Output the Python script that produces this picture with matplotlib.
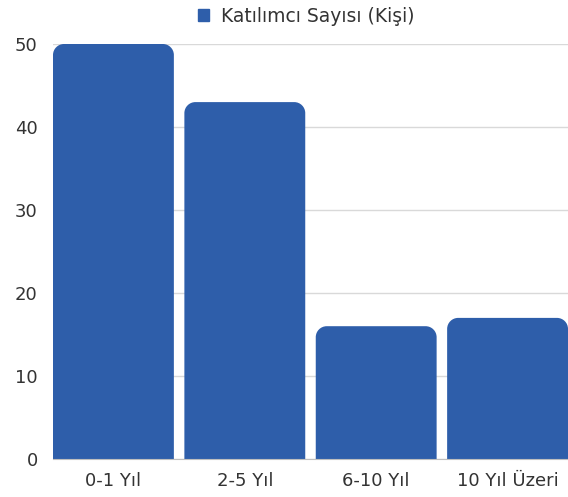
import matplotlib
matplotlib.use("Agg")
import matplotlib.pyplot as plt
from matplotlib.path import Path
from matplotlib.patches import PathPatch, Patch

categories = ["0-1 Yıl", "2-5 Yıl", "6-10 Yıl", "10 Yıl Üzeri"]
values = [50, 43, 16, 17]
series_name = "Katılımcı Sayısı (Kişi)"

BLUE = "#2e5eaa"
TEXT = "#333333"

plt.rcParams["font.family"] = ["DejaVu Sans"]

fig = plt.figure(figsize=(5.68, 4.97), dpi=100)
ax = fig.add_axes([53 / 568, 1 - 459 / 497, 515 / 568, 415 / 497])

x = range(len(categories))
bars = ax.bar(x, values, width=0.92, color=BLUE)
ax.set_xlim(-0.46, len(categories) - 0.54)
ax.set_ylim(0, 50)
ax.set_yticks([0, 10, 20, 30, 40, 50])
ax.set_xticks(list(x))
ax.set_xticklabels(categories)

ax.grid(axis="y", color="#d9d9d9", linewidth=1)
ax.set_axisbelow(True)
for s in ["top", "right", "left"]:
    ax.spines[s].set_visible(False)
ax.spines["bottom"].set_color("#bfbfbf")
ax.tick_params(axis="both", length=0, labelsize=13, colors=TEXT)
ax.tick_params(axis="y", pad=11)
ax.tick_params(axis="x", pad=9)

# swap the square bars for ones with rounded top corners
fig.canvas.draw()
px_x = ax.transData.transform((1, 0))[0] - ax.transData.transform((0, 0))[0]
px_y = ax.transData.transform((0, 1))[1] - ax.transData.transform((0, 0))[1]
r = 11
rx, ry = r / px_x, r / px_y
k = 0.5523
for b in bars:
    x0, w, h = b.get_x(), b.get_width(), b.get_height()
    x1 = x0 + w
    verts = [
        (x0, 0), (x0, h - ry),
        (x0, h - ry + k * ry), (x0 + rx - k * rx, h), (x0 + rx, h),
        (x1 - rx, h),
        (x1 - rx + k * rx, h), (x1, h - ry + k * ry), (x1, h - ry),
        (x1, 0), (x0, 0),
    ]
    codes = [Path.MOVETO, Path.LINETO,
             Path.CURVE4, Path.CURVE4, Path.CURVE4,
             Path.LINETO,
             Path.CURVE4, Path.CURVE4, Path.CURVE4,
             Path.LINETO, Path.CLOSEPOLY]
    ax.add_patch(PathPatch(Path(verts, codes), facecolor=BLUE, edgecolor="none"))
    b.set_visible(False)

fig.legend(handles=[Patch(color=BLUE, label=series_name)],
           loc="center", bbox_to_anchor=(0.539, 1 - 16 / 497), frameon=False,
           fontsize=13.5, handlelength=0.6, handleheight=0.6, handletextpad=0.6,
           labelcolor=TEXT)

fig.savefig("out.png", dpi=100)
